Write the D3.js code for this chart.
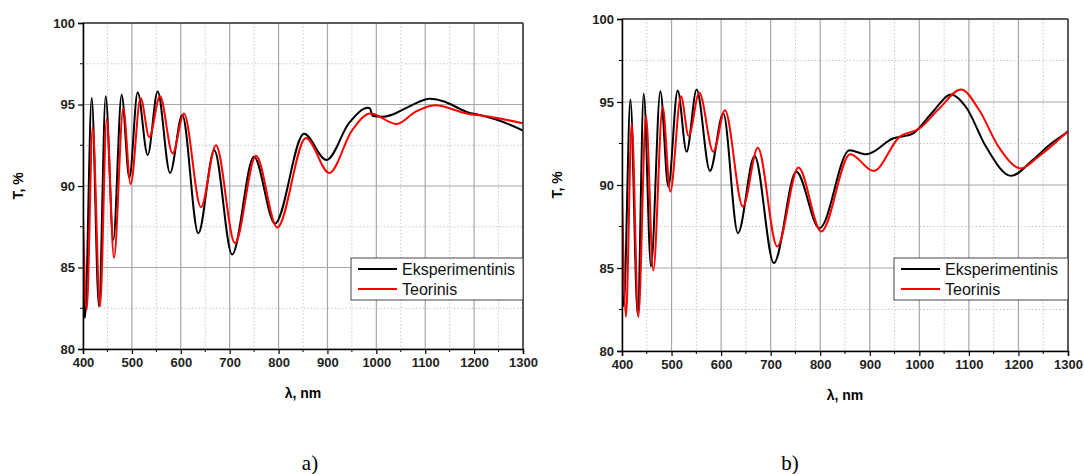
<!DOCTYPE html>
<html>
<head>
<meta charset="utf-8">
<script src="https://cdn.jsdelivr.net/npm/d3@7"></script>
<style>
  body { margin: 0; background: #fff; }
  svg { display: block; }
  .tick text { font-family: "Liberation Sans", Arial, sans-serif; font-weight: bold; font-size: 13px; fill: #222; }
</style>
</head>
<body>
<svg id="chart" width="1084" height="474"></svg>
<script>
// ---- data (λ in nm, T in %) ----
const expA = [
  [400, 84.6], [404, 81.9], [417.8, 95.4], [432.7, 82.6], [446.4, 95.5], [462, 86.7],
  [479, 95.6], [494.8, 90.5], [511.8, 95.75], [532.3, 91.9], [552.7, 95.8], [578, 90.8],
  [603, 94.35], [635.8, 87.1], [668.5, 92.2], [705, 85.8], [749.7, 91.8], [792.6, 87.7],
  [852, 93.2], [898, 91.6], [945, 93.9], [983, 94.8], [987, 94.75], [992.5, 94.3],
  [1014, 94.25], [1034.6, 94.4], [1068.7, 94.9], [1109.6, 95.35], [1136.8, 95.2],
  [1184.7, 94.55], [1218.6, 94.3], [1252.8, 94.0], [1300, 93.4]
];
const theoA = [
  [400, 88.2], [407.5, 82.4], [419.8, 93.6], [434.8, 82.6], [448.5, 94.1], [463.4, 85.6],
  [482.4, 94.75], [497.5, 90.1], [517.8, 95.4], [535.6, 93.0], [557.5, 95.5], [583.4, 92.0],
  [606.5, 94.45], [641.3, 88.7], [672, 92.5], [710.8, 86.5], [753.8, 91.85], [797.3, 87.45],
  [856, 92.95], [903.7, 90.8], [950, 93.4], [988, 94.45], [1041, 93.8], [1080, 94.55],
  [1120, 94.95], [1184.7, 94.45], [1232, 94.25], [1300, 93.85]
];
const expB = [
  [400, 84.5], [403.4, 82.7], [417, 95.15], [431.7, 82.2], [443.8, 95.5], [458.5, 85.1],
  [477.4, 95.65], [493.5, 89.9], [512.3, 95.7], [530.4, 92.0], [550.6, 95.75], [577.4, 90.85],
  [604.4, 94.3], [633.9, 87.1], [667.5, 91.75], [706.5, 85.3], [751.6, 90.8], [798.6, 87.4],
  [859, 92.1], [892.7, 91.85], [946.4, 92.8], [986.7, 93.1], [1027, 94.4], [1064, 95.45],
  [1094, 94.7], [1134.7, 92.3], [1185, 90.55], [1228.6, 91.5], [1262, 92.4], [1300, 93.2]
];
const theoB = [
  [400, 89.8], [408, 82.05], [419.6, 93.7], [433, 82.05], [448.4, 94.15], [463.2, 84.85],
  [482, 94.7], [497.5, 89.6], [519, 95.35], [534.5, 92.95], [556, 95.55], [584.3, 92.0],
  [607.7, 94.5], [644, 88.7], [674, 92.25], [713.3, 86.3], [756, 91.05], [802, 87.2],
  [860.5, 91.85], [907.5, 90.85], [960, 92.9], [1000, 93.4], [1040, 94.6], [1084, 95.75],
  [1121, 94.5], [1160, 92.3], [1205, 91.0], [1240, 91.7], [1300, 93.25]
];

const xTicks = [400, 500, 600, 700, 800, 900, 1000, 1100, 1200, 1300];
const yTicks = [80, 85, 90, 95, 100];
const seriesNames = ["Eksperimentinis", "Teorinis"];
const seriesColors = ["#000000", "#ff0000"];
const captions = ["a)", "b)"];

const svg = d3.select("#chart");

function drawPanel(id, box, series, caption) {
  const x = d3.scaleLinear().domain([400, 1300]).range([box.left, box.right]);
  const y = d3.scaleLinear().domain([80, 100]).range([box.bottom, box.top]);
  const g = svg.append("g");

  g.append("clipPath").attr("id", "clip" + id)
    .append("rect")
    .attr("x", box.left).attr("y", box.top)
    .attr("width", box.right - box.left).attr("height", box.bottom - box.top);

  // minor grid (dotted)
  const xMinor = d3.range(450, 1300, 100);
  const yMinor = d3.range(82.5, 100, 5);
  g.selectAll(".xminor").data(xMinor).enter().append("line")
    .attr("x1", d => x(d)).attr("x2", d => x(d))
    .attr("y1", box.top).attr("y2", box.bottom)
    .attr("stroke", "#c8c8c8").attr("stroke-dasharray", "1.5,2");
  g.selectAll(".yminor").data(yMinor).enter().append("line")
    .attr("x1", box.left).attr("x2", box.right)
    .attr("y1", d => y(d)).attr("y2", d => y(d))
    .attr("stroke", "#c8c8c8").attr("stroke-dasharray", "1.5,2");

  // major grid
  g.selectAll(".xmajor").data(xTicks).enter().append("line")
    .attr("x1", d => x(d)).attr("x2", d => x(d))
    .attr("y1", box.top).attr("y2", box.bottom)
    .attr("stroke", "#a6a6a6").attr("stroke-width", 1.2);
  g.selectAll(".ymajor").data(yTicks).enter().append("line")
    .attr("x1", box.left).attr("x2", box.right)
    .attr("y1", d => y(d)).attr("y2", d => y(d))
    .attr("stroke", "#a6a6a6").attr("stroke-width", 1.2);

  // curves
  const line = d3.line()
    .x(d => x(d[0]))
    .y(d => y(d[1]))
    .curve(d3.curveMonotoneX);

  series.forEach((s, i) => {
    g.append("path")
      .datum(s)
      .attr("clip-path", `url(#clip${id})`)
      .attr("fill", "none")
      .attr("stroke", seriesColors[i])
      .attr("stroke-width", 2)
      .attr("d", line);
  });

  // frame: top and right
  g.append("line")
    .attr("x1", box.left).attr("x2", box.right)
    .attr("y1", box.top).attr("y2", box.top)
    .attr("stroke", "#333").attr("stroke-width", 1.5);
  g.append("line")
    .attr("x1", box.right).attr("x2", box.right)
    .attr("y1", box.top).attr("y2", box.bottom)
    .attr("stroke", "#333").attr("stroke-width", 1.5);

  // axes
  const xAxis = g.append("g")
    .attr("transform", `translate(0,${box.bottom})`)
    .call(d3.axisBottom(x).tickValues(xTicks).tickSize(5).tickPadding(4).tickFormat(d3.format("d")));
  xAxis.append("g").selectAll("line").data(xMinor).enter().append("line")
    .attr("x1", d => x(d)).attr("x2", d => x(d))
    .attr("y1", 0).attr("y2", 3).attr("stroke", "#000");

  const yAxis = g.append("g")
    .attr("transform", `translate(${box.left},0)`)
    .call(d3.axisLeft(y).tickValues(yTicks).tickSize(5).tickPadding(3));
  yAxis.append("g").selectAll("line").data(yMinor).enter().append("line")
    .attr("y1", d => y(d)).attr("y2", d => y(d))
    .attr("x1", 0).attr("x2", -3).attr("stroke", "#000");

  [xAxis, yAxis].forEach(a => {
    a.select(".domain").attr("stroke", "#000").attr("stroke-width", 1.5);
    a.selectAll(".tick line").attr("stroke", "#000").attr("stroke-width", 1.2);
  });

  // axis titles
  g.append("text")
    .attr("x", (box.left + box.right) / 2)
    .attr("y", box.bottom + 49)
    .attr("text-anchor", "middle")
    .style("font-family", "Liberation Sans, Arial, sans-serif")
    .style("font-weight", "bold").style("font-size", "14px")
    .text("λ, nm");
  g.append("text")
    .attr("transform", `translate(${box.left - 60},${(box.top + box.bottom) / 2}) rotate(-90)`)
    .attr("text-anchor", "middle")
    .style("font-family", "Liberation Sans, Arial, sans-serif")
    .style("font-weight", "bold").style("font-size", "14px")
    .text("T, %");

  // legend
  const lg = g.append("g").attr("transform", `translate(${box.legendX},258)`);
  lg.append("rect")
    .attr("width", box.right - box.legendX).attr("height", 42)
    .attr("fill", "#fff").attr("stroke", "#444").attr("stroke-width", 1);
  seriesNames.forEach((name, i) => {
    lg.append("line")
      .attr("x1", 7).attr("x2", 46)
      .attr("y1", 11 + i * 20).attr("y2", 11 + i * 20)
      .attr("stroke", seriesColors[i]).attr("stroke-width", 2);
    lg.append("text")
      .attr("x", 51).attr("y", 17 + i * 20)
      .style("font-family", "Liberation Sans, Arial, sans-serif")
      .style("font-size", "16px").attr("fill", "#111")
      .text(name);
  });

  // caption
  svg.append("text")
    .attr("x", box.captionX).attr("y", 470)
    .attr("text-anchor", "middle")
    .style("font-family", "Liberation Serif, Times New Roman, serif")
    .style("font-size", "21px")
    .text(caption);
}

drawPanel("A", {left: 83, right: 523, top: 23, bottom: 349, legendX: 351, captionX: 310}, [expA, theoA], captions[0]);
drawPanel("B", {left: 622, right: 1068, top: 19, bottom: 351, legendX: 894, captionX: 790}, [expB, theoB], captions[1]);
</script>
</body>
</html>
